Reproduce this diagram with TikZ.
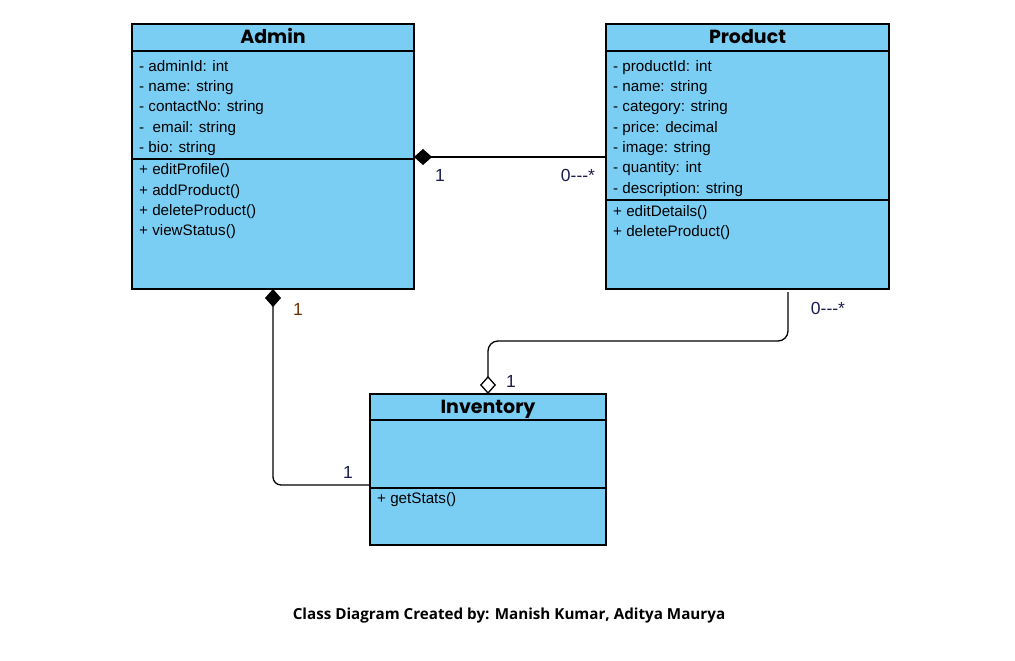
\documentclass[tikz,border=0pt]{standalone}
\usepackage{fontspec}
\setmainfont{Liberation Sans}
\newfontfamily\poppins{Poppins}
\newfontfamily\opensans{Open Sans}
\usepackage{xcolor}
\usetikzlibrary{arrows.meta, positioning, calc}
\definecolor{classblue}{RGB}{122,206,244}
\definecolor{multnavy}{RGB}{28,28,74}
\definecolor{multbrown}{RGB}{110,50,0}

\begin{document}
\begin{tikzpicture}[x=1pt, y=-1pt, node distance=0cm,
  head/.style={rectangle, draw=black, line width=1.3pt, fill=classblue, minimum height=27pt, inner sep=0pt, outer sep=0pt, text height=15pt, text depth=2pt, font=\poppins\bfseries\fontsize{19}{21}\selectfont},
  part/.style={rectangle, draw=black, line width=1.3pt, fill=classblue, inner sep=0pt, outer sep=0pt},
  member/.style={align=left, inner sep=0pt, font=\fontsize{15.2}{20.3}\selectfont},
  conn/.style={line width=1.3pt, black},
  mult/.style={inner sep=0pt, text=multnavy, font=\fontsize{17.5}{19}\selectfont}]

      \path[fill=white, use as bounding box] (0,0) rectangle (1015,661);

      % Admin
      \node[head, minimum width=282pt, anchor=north west] (admin1) at (132,24) {Admin};
      \node[part, minimum width=282pt, minimum height=108pt, below=of admin1] (admin2) {};
      \node[part, minimum width=282pt, minimum height=130pt, below=of admin2] (admin3) {};
      \node[member, below right=9pt and 7pt of admin2.north west] (adminattr) {- adminId: int\\- name: string\\- contactNo: string\\-\ \ email: string\\- bio: string};
      \node[member, below right=4.5pt and 7pt of admin3.north west] (adminop) {+ editProfile()\\+ addProduct()\\+ deleteProduct()\\+ viewStatus()};

      % Product
      \node[head, minimum width=283pt, anchor=north west] (product1) at (606,24) {Product};
      \node[part, minimum width=283pt, minimum height=149pt, below=of product1] (product2) {};
      \node[part, minimum width=283pt, minimum height=89pt, below=of product2] (product3) {};
      \node[member, below right=9pt and 7pt of product2.north west] (productattr) {- productId: int\\- name: string\\- category: string\\- price: decimal\\- image: string\\- quantity: int\\- description: string};
      \node[member, below right=5pt and 7pt of product3.north west] (productop) {+ editDetails()\\+ deleteProduct()};

      % Inventory
      \node[head, minimum width=236pt, minimum height=26pt, anchor=north west] (inv1) at (370,394) {Inventory};
      \node[part, minimum width=236pt, minimum height=68pt, below=of inv1] (inv2) {};
      \node[part, minimum width=236pt, minimum height=57pt, below=of inv2] (inv3) {};
      \node[member, below right=4.5pt and 7pt of inv3.north west] (invop) {+ getStats()};

      % Admin -- Product
      \coordinate[above=2pt of admin2.south east] (ap);
      \draw[conn, {Diamond[length=18pt, width=16pt]}-] (ap) -- (ap -| product2.west);

      % Admin -- Inventory
      \coordinate[above=3pt of inv2.south west] (inlet);
      \draw[conn, rounded corners=8pt, {Diamond[length=18pt, width=16pt]}-] (admin3.south) |- (inlet);

      % Product -- Inventory
      \coordinate (pout) at ($(product3.south)+(40.5,3)$);
      \coordinate (pbend) at ($(product3.south)+(0,52)$);
      \draw[conn, rounded corners=10pt, -{Diamond[open, length=18pt, width=16pt]}] (pout) |- (pbend -| inv1.north) -- (inv1.north);

      % Multiplizitaeten
      \node[mult] (m1) at (440,175) {1};
      \node[mult] (m2) at (578,175) {0-{}-{}-*};
      \node[mult, text=multbrown] (m3) at (298,309) {1};
      \node[mult] (m4) at (348,472) {1};
      \node[mult] (m5) at (828,308) {0-{}-{}-*};
      \node[mult] (m6) at (511,381) {1};

      % Unterschrift
      \node[font=\opensans\bfseries\fontsize{15.2}{17}\selectfont] (caption) at (509,616) {Class Diagram Created by: Manish Kumar, Aditya Maurya};

\end{tikzpicture}
\end{document}
